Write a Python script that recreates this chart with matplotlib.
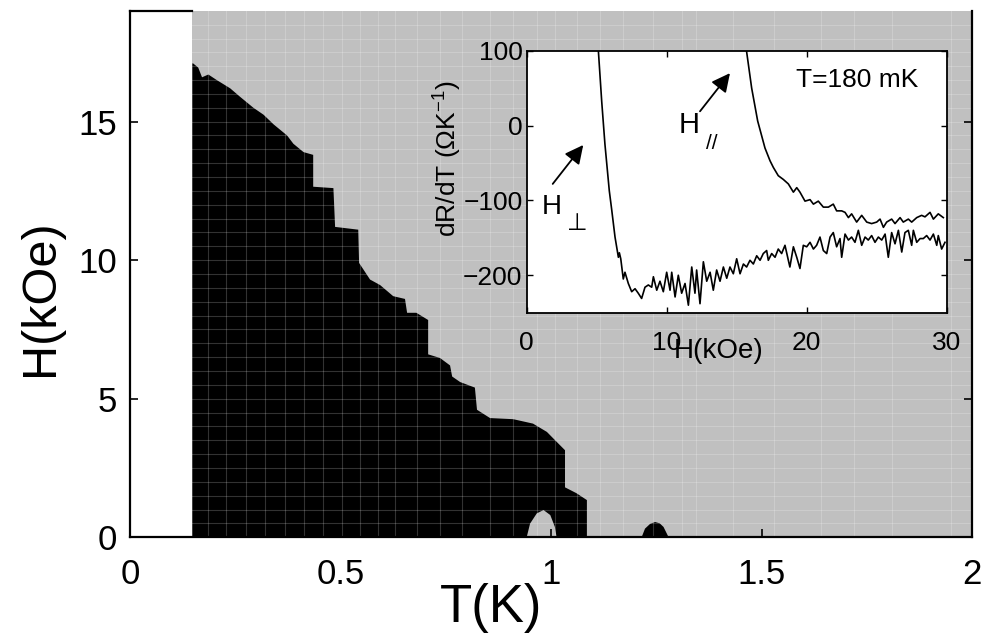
import matplotlib
matplotlib.use("Agg")
import matplotlib.pyplot as plt

plt.rcParams['font.family'] = ['Liberation Sans', 'DejaVu Sans']
plt.rcParams['mathtext.fontset'] = 'custom'
plt.rcParams['mathtext.rm'] = 'Liberation Sans'
plt.rcParams['mathtext.it'] = 'Liberation Sans:italic'

# ---- main panel: phase map, upper edge of the black (low T) region ----
T_min = 0.148
T_edge = [0.148, 0.150, 0.162, 0.171, 0.186, 0.206, 0.238, 0.261, 0.293, 0.317,
          0.341, 0.373, 0.388, 0.412, 0.435, 0.435, 0.483, 0.487, 0.542, 0.544,
          0.570, 0.594, 0.625, 0.653, 0.658, 0.680, 0.708, 0.708, 0.736, 0.760,
          0.765, 0.784, 0.819, 0.824, 0.855, 0.910, 0.957, 0.990, 1.014, 1.033,
          1.033, 1.060, 1.085, 1.085]
H_edge = [17.1, 17.1, 16.95, 16.6, 16.7, 16.5, 16.2, 15.9, 15.5, 15.25,
          14.9, 14.5, 14.2, 13.9, 13.8, 12.65, 12.6, 11.2, 11.1, 9.9,
          9.3, 9.1, 8.7, 8.6, 8.1, 8.1, 7.84, 6.6, 6.47, 6.2,
          5.8, 5.6, 5.4, 4.6, 4.3, 4.26, 4.1, 3.8, 3.43, 3.14,
          1.8, 1.59, 1.34, 0.0]

# gray pocket at the bottom near 1 K, small black island near 1.25 K
T_pocket = [0.942, 0.950, 0.966, 0.982, 0.998, 1.009, 1.013]
H_pocket = [0.0, 0.49, 0.86, 0.98, 0.80, 0.37, 0.0]
T_island = [1.215, 1.223, 1.235, 1.247, 1.258, 1.267, 1.279]
H_island = [0.0, 0.31, 0.48, 0.55, 0.50, 0.37, 0.0]

# measurement grid (shows up as faint lines in the map)
T_grid = [0.186, 0.227, 0.275, 0.321, 0.368, 0.412, 0.459, 0.503, 0.547, 0.590,
          0.629, 0.681, 0.736, 0.788, 0.855, 0.910, 0.966, 1.009, 1.061, 1.116,
          1.170, 1.242, 1.310, 1.345, 1.432, 1.530, 1.640, 1.720, 1.810, 1.950]
H_grid = [0.5 * k for k in range(1, 38)]

# ---- inset: dR/dT vs H at 180 mK ----
perp_H = [5.0, 5.12, 5.36, 5.59, 5.9, 6.07, 6.31, 6.55, 6.62, 6.72, 6.9, 7.02, 7.26,
          7.5, 7.74, 7.97, 8.21, 8.45, 8.69, 8.93, 9.05, 9.29, 9.52, 9.76, 10.0,
          10.24, 10.36, 10.6, 10.83, 11.07, 11.31, 11.55, 11.79, 12.02, 12.14, 12.38,
          12.62, 12.86, 13.1, 13.33, 13.57, 13.81, 14.05, 14.29, 14.52, 14.76, 15.0,
          15.24, 15.48, 15.71, 15.95, 16.19, 16.43, 16.67, 16.9, 17.14, 17.26, 17.5,
          17.74, 17.97, 18.21, 18.45, 18.69, 18.8, 19.05, 19.29, 19.52, 19.76, 20.0,
          20.24, 20.48, 20.71, 20.95, 21.19, 21.43, 21.67, 21.9, 22.14, 22.38, 22.5,
          22.74, 22.98, 23.21, 23.45, 23.69, 23.93, 24.17, 24.4, 24.64, 24.88, 25.12,
          25.36, 25.6, 25.83, 26.07, 26.31, 26.55, 26.79, 27.02, 27.26, 27.5, 27.62,
          27.86, 28.1, 28.33, 28.57, 28.81, 29.05, 29.29, 29.4, 29.64, 29.88]
perp_val = [134, 100, 32, -25, -87, -112, -149, -176, -170, -178, -205, -196, -211,
            -222, -218, -224, -231, -216, -213, -216, -202, -220, -208, -222, -196,
            -220, -196, -229, -200, -224, -211, -240, -189, -224, -193, -238,
            -182, -208, -196, -220, -193, -208, -189, -204, -189, -198, -178,
            -198, -185, -189, -180, -185, -174, -180, -171, -167, -180, -171,
            -176, -165, -171, -160, -180, -189, -162, -176, -191, -160, -162,
            -156, -165, -160, -149, -167, -171, -149, -143, -162, -151, -176,
            -145, -153, -149, -156, -140, -160, -149, -153, -147, -156, -149,
            -153, -145, -176, -143, -158, -140, -169, -143, -140, -160, -140,
            -156, -151, -151, -147, -153, -145, -160, -147, -165, -156]

par_H = [15.5, 15.7, 16.07, 16.5, 17.02, 17.38, 17.62, 17.97, 18.33, 18.69, 19.05,
         19.29, 19.52, 19.88, 20.24, 20.48, 20.83, 21.19, 21.55, 21.9, 22.14, 22.5,
         22.74, 22.98, 23.21, 23.57, 23.93, 24.29, 24.64, 25.0, 25.24, 25.48, 25.71,
         26.07, 26.31, 26.67, 26.9, 27.26, 27.5, 27.86, 28.21, 28.45, 28.81, 29.05,
         29.4, 29.76]
par_val = [127, 100, 50, 6, -30, -47, -56, -67, -72, -78, -89,
           -83, -89, -101, -99, -105, -101, -109, -109, -105, -114, -114,
           -116, -123, -118, -129, -120, -129, -131, -129, -125, -136, -129,
           -125, -131, -123, -129, -125, -129, -123, -120, -122, -116, -125,
           -118, -123]

gray = '#c0c0c0'

fig = plt.figure(figsize=(9.85, 6.35), dpi=100)
ax = fig.add_axes([0.132, 0.154, 0.855, 0.829])

ax.axvspan(T_min, 2.0, color=gray, lw=0, zorder=0.5)
ax.fill(T_edge + [T_min], H_edge + [0.0], color='k', lw=0, zorder=1)
ax.fill(T_pocket, H_pocket, color=gray, lw=0, zorder=1.1)
ax.fill(T_island, H_island, color='k', lw=0, zorder=1.1)
for h in H_grid:
    ax.plot([T_min, 2.0], [h, h], color='white', alpha=0.2, lw=0.8, zorder=1.2)
for t in T_grid:
    ax.axvline(t, color='white', alpha=0.2, lw=0.8, zorder=1.2)

ax.set_xlim(0, 2)
ax.set_ylim(0, 19)
ax.set_xticks([0, 0.5, 1, 1.5, 2])
ax.set_xticklabels(['0', '0.5', '1', '1.5', '2'])
ax.set_yticks([0, 5, 10, 15])
ax.tick_params(direction='in', length=6, width=1.2, labelsize=25, right=True)
ax.tick_params(axis='x', pad=15)
ax.tick_params(axis='y', pad=9.5)
for s in ax.spines.values():
    s.set_linewidth(1.6)
ax.spines['top'].set_bounds(0, T_min)

ax.set_xlabel('T(K)', fontsize=38)
ax.xaxis.set_label_coords(0.429, -0.1613)
ax.xaxis.label.set_va('baseline')
ax.set_ylabel('H(kOe)', fontsize=35)
ax.yaxis.set_label_coords(-0.0914, 0.455)
ax.yaxis.label.set_va('baseline')

# inset
ins = fig.add_axes([0.5347, 0.5076, 0.4264, 0.4126])
ins.set_facecolor('white')
ins.plot(perp_H, perp_val, color='k', lw=1.2)
ins.plot(par_H, par_val, color='k', lw=1.2)
ins.set_xlim(0, 30)
ins.set_ylim(-250, 100)
ins.set_xticks([0, 10, 20, 30])
ins.set_yticks([-200, -100, 0, 100])
ins.tick_params(direction='in', length=4, width=1, labelsize=19,
                top=True, right=True)
ins.tick_params(axis='x', pad=13)
ins.tick_params(axis='y', pad=3)
for s in ins.spines.values():
    s.set_linewidth(1.3)

ins.set_xlabel('H(kOe)', fontsize=20)
ins.xaxis.set_label_coords(0.457, -0.173)
ins.xaxis.label.set_va('baseline')
ins.set_ylabel(r'dR/dT (ΩK$^{-1}$)', fontsize=19)
ins.yaxis.set_label_coords(-0.168, 0.587)
ins.yaxis.label.set_va('baseline')

ins.text(23.6, 51, 'T=180 mK', fontsize=19, ha='center', va='baseline')
ins.text(1.79, -118, 'H', fontsize=20, ha='center', va='baseline')
ins.text(3.63, -140, '⊥', fontsize=17, ha='center', va='baseline')
ins.text(11.63, -10, 'H', fontsize=21, ha='center', va='baseline')
ins.text(13.21, -32, '//', fontsize=15, ha='center', va='baseline')
arrow = dict(arrowstyle='-|>', color='k', lw=1.3, mutation_scale=28,
             shrinkA=0, shrinkB=0)
ins.annotate('', xy=(4.04, -26), xytext=(1.86, -78), arrowprops=arrow)
ins.annotate('', xy=(14.52, 70), xytext=(12.38, 19), arrowprops=arrow)

fig.savefig('out.png', dpi=100)
